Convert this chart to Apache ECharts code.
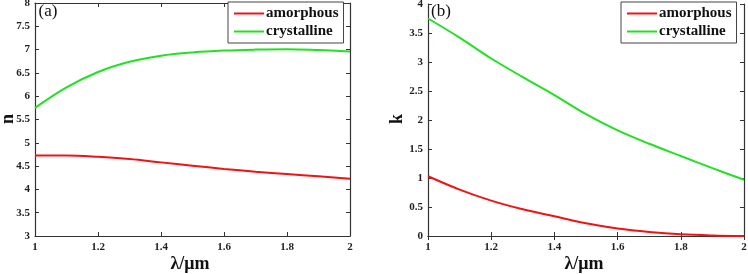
<!DOCTYPE html>
<html>
<head>
<meta charset="utf-8">
<script src="https://cdn.jsdelivr.net/npm/echarts@6/dist/echarts.min.js"></script>
<style>
  html, body { margin: 0; padding: 0; background: #fff; }
  #chart { width: 748px; height: 274px; }
</style>
</head>
<body>
<div id="chart"></div>
<script>
  // wavelength samples (um)
  let lambda = [1.0, 1.1, 1.2, 1.3, 1.4, 1.5, 1.6, 1.7, 1.8, 1.9, 2.0];
  // refractive index n
  let nAmorphous = [4.73, 4.73, 4.70, 4.65, 4.58, 4.51, 4.44, 4.38, 4.33, 4.28, 4.23];
  let nCrystalline = [5.75, 6.19, 6.52, 6.74, 6.87, 6.94, 6.98, 7.0, 7.01, 6.99, 6.96];
  // extinction coefficient k
  let kAmorphous = [1.03, 0.8, 0.61, 0.46, 0.34, 0.22, 0.13, 0.07, 0.03, 0.01, 0.0];
  let kCrystalline = [3.75, 3.42, 3.06, 2.74, 2.43, 2.1, 1.82, 1.59, 1.38, 1.17, 0.97];
  let xTicks = [1, 1.2, 1.4, 1.6, 1.8, 2];

  let serif = "'Liberation Serif', 'DejaVu Serif', serif";
  let red = "#ee1414";
  let green = "#22e022";
  let nameFont = "bold 18px " + serif;

  function pairs(ys) {
    return lambda.map(function (x, i) {
      return [x, ys[i]];
    });
  }

  function xFmt(v) {
    return v === 1 || v === 2 ? String(v) : v.toFixed(1);
  }

  function yFmt(v) {
    return Number.isInteger(v) ? String(v) : v.toFixed(1);
  }

  let tickStyle = {
    show: true,
    inside: true,
    length: 4,
    lineStyle: { color: "#333", width: 1 },
  };
  let lineStyle = { show: true, lineStyle: { color: "#333", width: 1.2 } };
  let labelStyle = {
    color: "#222",
    fontFamily: serif,
    fontWeight: "bold",
    fontSize: 11,
  };

  function xAxes(grid) {
    return [
      {
        gridIndex: grid,
        type: "value",
        min: xTicks[0],
        max: xTicks[xTicks.length - 1],
        interval: 0.2,
        position: "bottom",
        axisLine: lineStyle,
        axisTick: tickStyle,
        splitLine: { show: false },
        axisLabel: Object.assign({ formatter: xFmt, margin: 6 }, labelStyle),
      },
      {
        gridIndex: grid,
        type: "value",
        min: 1,
        max: 2,
        interval: 0.2,
        position: "top",
        axisLine: lineStyle,
        axisTick: tickStyle,
        splitLine: { show: false },
        axisLabel: { show: false },
      },
    ];
  }

  function yAxes(grid, min, max) {
    return [
      {
        gridIndex: grid,
        type: "value",
        min: min,
        max: max,
        interval: 0.5,
        position: "left",
        axisLine: lineStyle,
        axisTick: tickStyle,
        splitLine: { show: false },
        axisLabel: Object.assign({ formatter: yFmt, margin: 5 }, labelStyle),
      },
      {
        gridIndex: grid,
        type: "value",
        min: min,
        max: max,
        interval: 0.5,
        position: "right",
        axisLine: lineStyle,
        axisTick: tickStyle,
        splitLine: { show: false },
        axisLabel: { show: false },
      },
    ];
  }

  function legendAt(left) {
    return {
      left: left,
      top: 2,
      orient: "vertical",
      data: ["amorphous", "crystalline"],
      backgroundColor: "#fff",
      borderColor: "#444",
      borderWidth: 1,
      borderRadius: 0,
      padding: [4, 5, 4, 6],
      itemGap: 3,
      itemWidth: 30,
      itemHeight: 2,
      icon: "rect",
      textStyle: {
        color: "#111",
        fontFamily: serif,
        fontWeight: "bold",
        fontSize: 15,
        padding: [0, 0, 0, -3],
      },
    };
  }

  function label(text, x, y, font, rotate) {
    return {
      type: "text",
      x: x,
      y: y,
      rotation: rotate ? Math.PI / 2 : 0,
      style: {
        text: text,
        font: font,
        fill: "#111",
        align: "center",
        verticalAlign: "middle",
      },
    };
  }

  function line(name, color, data, axis) {
    return {
      name: name,
      type: "line",
      smooth: 0.35,
      showSymbol: false,
      symbol: "none",
      xAxisIndex: axis,
      yAxisIndex: axis,
      data: data,
      lineStyle: { color: color, width: 2 },
      itemStyle: { color: color },
      z: 3,
    };
  }

  let myChart = echarts.init(document.getElementById("chart"));
  let option = {
    animation: false,
    backgroundColor: "#fff",
    grid: [
      { left: 35, right: 398, top: 3, bottom: 38, outerBoundsMode: "none", containLabel: false },
      { left: 428, right: 4, top: 4, bottom: 38, outerBoundsMode: "none", containLabel: false },
    ],
    xAxis: xAxes(0).concat(xAxes(1)),
    yAxis: yAxes(0, 3, 8).concat(yAxes(1, 0, 4)),
    legend: [legendAt(228), legendAt(621)],
    graphic: [
      label("(a)", 48, 12, "17px " + serif, false),
      label("(b)", 441, 12, "17px " + serif, false),
      label("n", 8, 119, nameFont, true),
      label("k", 397, 119, nameFont, true),
      label("λ/μm", 190, 264, nameFont, false),
      label("λ/μm", 584, 264, nameFont, false),
    ],
    series: [
      line("amorphous", red, pairs(nAmorphous), 0),
      line("crystalline", green, pairs(nCrystalline), 0),
      line("amorphous", red, pairs(kAmorphous), 2),
      line("crystalline", green, pairs(kCrystalline), 2),
    ],
  };
  option && myChart.setOption(option);
</script>
</body>
</html>
